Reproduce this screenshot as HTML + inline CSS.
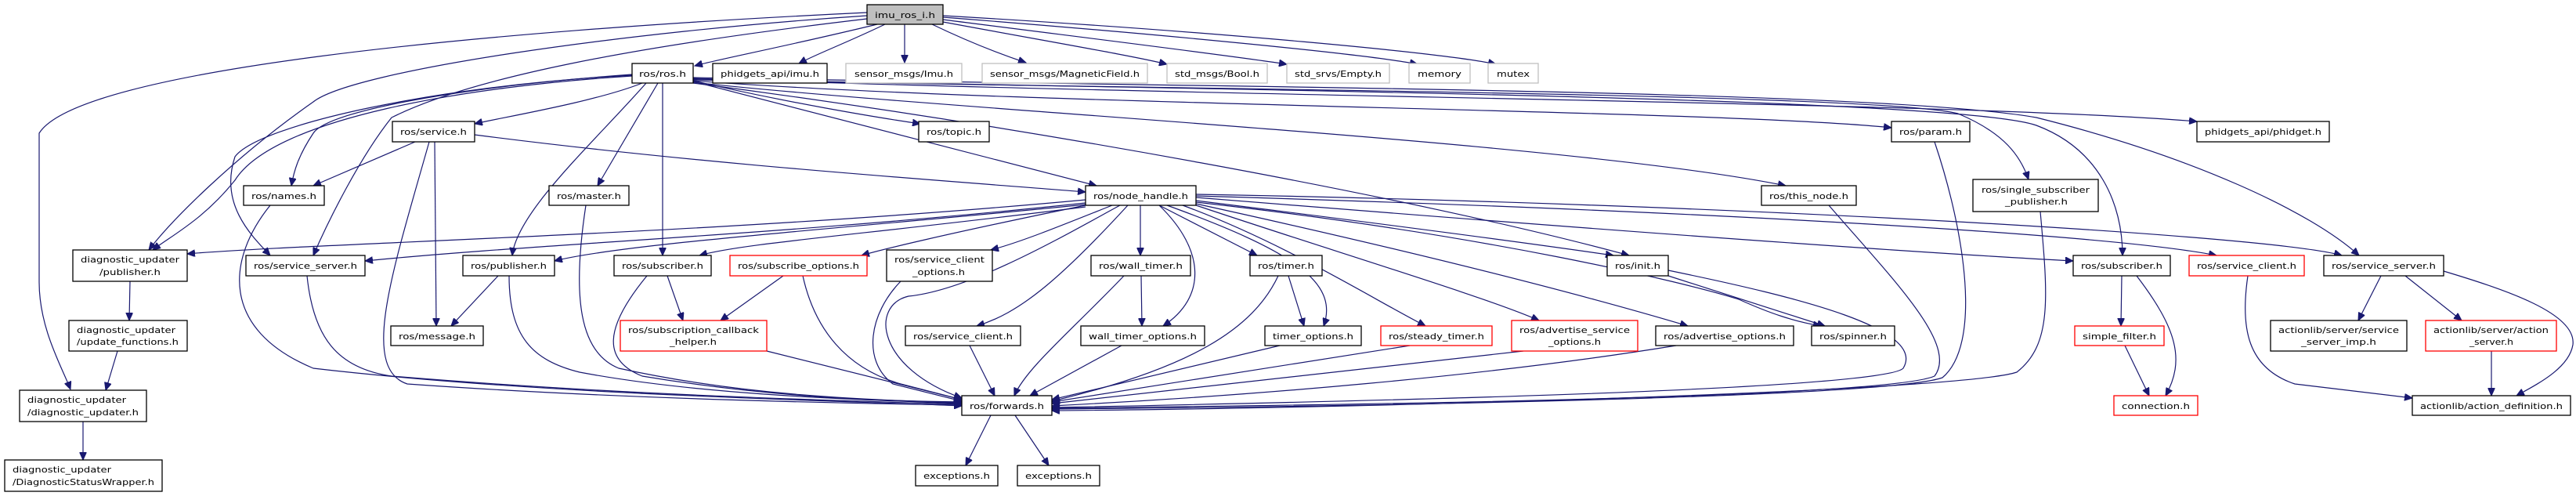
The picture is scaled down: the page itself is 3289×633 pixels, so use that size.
<!DOCTYPE html>
<html><head><meta charset="utf-8"><style>
html,body{margin:0;padding:0;background:#fff;}
svg{display:block;}
text{font-family:"DejaVu Sans","Liberation Sans",sans-serif;font-size:11px;fill:#000;}
.e{fill:none;stroke:#191970;stroke-width:1.2;}
.n{fill:#fff;stroke:#000;stroke-width:1.3;}
.g{fill:#fff;stroke:#bfbfbf;stroke-width:1.3;}
.r{fill:#fff;stroke:#ff0000;stroke-width:1.3;}
</style></head><body>
<svg width="3289" height="633" viewBox="0 0 3289 633" xmlns="http://www.w3.org/2000/svg">
<defs><marker id="a" markerUnits="userSpaceOnUse" markerWidth="11" markerHeight="9" refX="10" refY="4.5" orient="auto"><path d="M0,0 L10,4.5 L0,9 z" fill="#191970" stroke="#191970"/></marker></defs>
<g class="e" marker-end="url(#a)">
<path d="M1120,31 C1000,60 920,75 887,84"/>
<path d="M1130,31 C1080,55 1040,70 1020,81"/>
<path d="M1155,31 L1155,80"/>
<path d="M1190,31 C1240,55 1280,70 1310,80"/>
<path d="M1204,28 C1350,55 1450,72 1490,82"/>
<path d="M1204,25 C1400,50 1580,72 1643,82"/>
<path d="M1204,22 C1500,45 1750,70 1810,82"/>
<path d="M1204,20 C1550,40 1850,68 1910,82"/>
<path d="M1107,16 C600,40 100,90 50,170 L50,360 C50,420 80,470 90,497"/>
<path d="M1107,20 C800,40 450,90 400,130 C300,200 220,280 190,319"/>
<path d="M1107,24 C800,60 600,100 500,150 C460,200 420,280 400,326"/>
<path d="M807,97 C600,110 350,150 300,230 C260,280 220,300 195,319"/>
<path d="M807,95 C600,110 420,140 400,170 C380,200 375,220 372,237"/>
<path d="M807,96 C550,110 330,160 300,200 C280,260 320,300 345,326"/>
<path d="M820,106 C760,130 640,150 606,158"/>
<path d="M840,106 L763,237"/>
<path d="M825,106 C760,180 660,270 654,326"/>
<path d="M846,106 L846,326"/>
<path d="M885,104 C1100,160 1300,210 1400,237"/>
<path d="M885,103 C1000,130 1120,150 1175,158"/>
<path d="M885,105 C1200,140 2000,180 2280,237"/>
<path d="M885,106 C1300,160 1800,250 2080,326"/>
<path d="M885,103 C1300,135 2200,140 2415,163"/>
<path d="M885,102 C1600,115 2400,120 2500,145 C2560,170 2580,200 2590,229"/>
<path d="M885,101 C1600,115 2500,125 2600,160 C2680,190 2710,260 2710,326"/>
<path d="M885,100 C1600,125 2500,130 2805,155"/>
<path d="M885,99 C1600,112 2400,115 2600,150 C2800,200 2950,270 3012,326"/>
<path d="M530,181 L400,237"/>
<path d="M606,172 C900,210 1200,230 1386,245"/>
<path d="M555,181 L557,416"/>
<path d="M548,181 C500,350 460,470 520,490 C800,510 1100,515 1228,517"/>
<path d="M345,262 C290,330 280,420 400,470 C700,505 1100,512 1228,518"/>
<path d="M392,352 C400,430 430,470 500,480 C800,505 1100,512 1228,516"/>
<path d="M636,352 L576,416"/>
<path d="M650,352 C650,430 680,460 740,475 C900,505 1100,510 1228,515"/>
<path d="M748,262 C730,380 740,450 790,470 C950,505 1100,510 1228,514"/>
<path d="M852,352 L872,409"/>
<path d="M826,352 C770,420 770,460 820,480 C1000,510 1150,512 1228,513"/>
<path d="M1000,352 L920,409"/>
<path d="M1025,352 C1040,420 1080,470 1150,490 L1228,510"/>
<path d="M979,448 L1228,510"/>
<path d="M1386,255 C900,300 400,310 239,324"/>
<path d="M1386,259 C1000,300 700,310 466,333"/>
<path d="M1386,261 C1100,290 800,310 708,333"/>
<path d="M1386,264 C1100,300 950,310 893,326"/>
<path d="M1386,262 C1200,300 1120,320 1100,326"/>
<path d="M1420,262 C1350,290 1300,310 1265,319"/>
<path d="M1440,262 C1350,360 1300,400 1247,416"/>
<path d="M1430,262 C1360,300 1240,370 1160,378 C1110,390 1120,470 1228,508"/>
<path d="M1456,262 L1456,326"/>
<path d="M1480,262 C1540,320 1540,380 1485,416"/>
<path d="M1480,262 L1605,326"/>
<path d="M1490,262 C1650,320 1710,360 1690,416"/>
<path d="M1510,262 C1640,310 1750,380 1820,416"/>
<path d="M1527,262 C1700,320 1900,380 1965,409"/>
<path d="M1527,260 C1800,320 2000,370 2155,416"/>
<path d="M1527,258 C1900,300 2150,360 2220,382 C2260,400 2290,410 2325,416"/>
<path d="M1527,256 C1800,290 1950,310 2060,326"/>
<path d="M1527,252 C2000,290 2400,320 2647,333"/>
<path d="M1527,250 C2200,270 2700,300 2830,326"/>
<path d="M1527,248 C2200,260 2900,300 2990,326"/>
<path d="M1150,359 C1110,400 1100,460 1140,490 L1228,512"/>
<path d="M1457,352 L1458,416"/>
<path d="M1435,352 C1370,420 1310,470 1295,505"/>
<path d="M1645,352 L1665,416"/>
<path d="M1632,352 C1600,420 1520,470 1343,512"/>
<path d="M1238,441 L1270,505"/>
<path d="M1432,441 L1315,505"/>
<path d="M1634,441 L1343,510"/>
<path d="M1800,441 L1343,513"/>
<path d="M1945,448 L1343,515"/>
<path d="M2140,441 C1900,480 1600,505 1343,518"/>
<path d="M2130,352 L2330,416"/>
<path d="M2130,345 C2300,380 2460,420 2430,470 C2400,500 1600,515 1343,520"/>
<path d="M2335,262 C2420,360 2500,440 2470,480 C2400,510 1600,518 1343,521"/>
<path d="M2470,181 C2510,300 2530,440 2480,482 C2400,510 1600,520 1343,522"/>
<path d="M2605,270 C2615,380 2620,440 2575,475 C2500,500 1700,522 1343,524"/>
<path d="M2709,352 L2708,416"/>
<path d="M2728,352 C2780,420 2790,460 2765,505"/>
<path d="M2713,441 L2744,505"/>
<path d="M2870,352 C2860,420 2870,470 2930,490 L3080,508"/>
<path d="M3040,352 L3011,409"/>
<path d="M3071,352 L3143,409"/>
<path d="M3120,346 C3200,370 3290,400 3285,440 C3280,470 3240,490 3213,505"/>
<path d="M3181,448 L3181,505"/>
<path d="M1265,530 L1233,594"/>
<path d="M1296,530 L1339,594"/>
<path d="M166,359 L165,409"/>
<path d="M150,448 L135,498"/>
<path d="M106,538 L106,587"/>
</g>
<rect x="1107" y="6" width="97" height="25" fill="#bfbfbf" stroke="#000" stroke-width="1.3"/><text x="1117" y="23" textLength="77" lengthAdjust="spacingAndGlyphs">imu_ros_i.h</text>
<rect class="n" x="807" y="81" width="78" height="25"/><text x="816" y="98" textLength="60" lengthAdjust="spacingAndGlyphs">ros/ros.h</text>
<rect class="n" x="910" y="81" width="146" height="25"/><text x="920" y="98" textLength="126" lengthAdjust="spacingAndGlyphs">phidgets_api/imu.h</text>
<rect class="g" x="1080" y="81" width="148" height="25"/><text x="1091" y="98" textLength="126" lengthAdjust="spacingAndGlyphs">sensor_msgs/Imu.h</text>
<rect class="g" x="1254" y="81" width="211" height="25"/><text x="1264" y="98" textLength="191" lengthAdjust="spacingAndGlyphs">sensor_msgs/MagneticField.h</text>
<rect class="g" x="1490" y="81" width="128" height="25"/><text x="1500" y="98" textLength="108" lengthAdjust="spacingAndGlyphs">std_msgs/Bool.h</text>
<rect class="g" x="1643" y="81" width="131" height="25"/><text x="1653" y="98" textLength="111" lengthAdjust="spacingAndGlyphs">std_srvs/Empty.h</text>
<rect class="g" x="1799" y="81" width="78" height="25"/><text x="1810" y="98" textLength="56" lengthAdjust="spacingAndGlyphs">memory</text>
<rect class="g" x="1900" y="81" width="64" height="25"/><text x="1911" y="98" textLength="42" lengthAdjust="spacingAndGlyphs">mutex</text>
<rect class="n" x="501" y="155" width="105" height="26"/><text x="511" y="172" textLength="85" lengthAdjust="spacingAndGlyphs">ros/service.h</text>
<rect class="n" x="1173" y="155" width="90" height="26"/><text x="1183" y="172" textLength="70" lengthAdjust="spacingAndGlyphs">ros/topic.h</text>
<rect class="n" x="2415" y="155" width="100" height="26"/><text x="2425" y="172" textLength="80" lengthAdjust="spacingAndGlyphs">ros/param.h</text>
<rect class="n" x="2805" y="155" width="169" height="26"/><text x="2815" y="172" textLength="149" lengthAdjust="spacingAndGlyphs">phidgets_api/phidget.h</text>
<rect class="n" x="311" y="237" width="103" height="25"/><text x="321" y="254" textLength="83" lengthAdjust="spacingAndGlyphs">ros/names.h</text>
<rect class="n" x="701" y="237" width="102" height="25"/><text x="711" y="254" textLength="82" lengthAdjust="spacingAndGlyphs">ros/master.h</text>
<rect class="n" x="1386" y="237" width="141" height="25"/><text x="1396" y="254" textLength="121" lengthAdjust="spacingAndGlyphs">ros/node_handle.h</text>
<rect class="n" x="2249" y="237" width="121" height="25"/><text x="2259" y="254" textLength="101" lengthAdjust="spacingAndGlyphs">ros/this_node.h</text>
<rect class="n" x="2519" y="229" width="160" height="41"/><text x="2530" y="246" textLength="138" lengthAdjust="spacingAndGlyphs">ros/single_subscriber</text><text x="2560" y="261" textLength="80" lengthAdjust="spacingAndGlyphs">_publisher.h</text>
<rect class="n" x="93" y="319" width="146" height="40"/><text x="103" y="335" textLength="126" lengthAdjust="spacingAndGlyphs">diagnostic_updater</text><text x="127" y="351" textLength="78" lengthAdjust="spacingAndGlyphs">/publisher.h</text>
<rect class="n" x="314" y="326" width="152" height="26"/><text x="324" y="343" textLength="132" lengthAdjust="spacingAndGlyphs">ros/service_server.h</text>
<rect class="n" x="591" y="326" width="117" height="26"/><text x="601" y="343" textLength="97" lengthAdjust="spacingAndGlyphs">ros/publisher.h</text>
<rect class="n" x="784" y="326" width="124" height="26"/><text x="794" y="343" textLength="104" lengthAdjust="spacingAndGlyphs">ros/subscriber.h</text>
<rect class="r" x="932" y="326" width="175" height="26"/><text x="942" y="343" textLength="155" lengthAdjust="spacingAndGlyphs">ros/subscribe_options.h</text>
<rect class="n" x="1132" y="319" width="135" height="40"/><text x="1142" y="335" textLength="115" lengthAdjust="spacingAndGlyphs">ros/service_client</text><text x="1165" y="351" textLength="67" lengthAdjust="spacingAndGlyphs">_options.h</text>
<rect class="n" x="1393" y="326" width="127" height="26"/><text x="1403" y="343" textLength="107" lengthAdjust="spacingAndGlyphs">ros/wall_timer.h</text>
<rect class="n" x="1596" y="326" width="92" height="26"/><text x="1606" y="343" textLength="72" lengthAdjust="spacingAndGlyphs">ros/timer.h</text>
<rect class="n" x="2052" y="326" width="78" height="26"/><text x="2062" y="343" textLength="58" lengthAdjust="spacingAndGlyphs">ros/init.h</text>
<rect class="n" x="2647" y="326" width="124" height="26"/><text x="2657" y="343" textLength="104" lengthAdjust="spacingAndGlyphs">ros/subscriber.h</text>
<rect class="r" x="2795" y="326" width="147" height="26"/><text x="2805" y="343" textLength="127" lengthAdjust="spacingAndGlyphs">ros/service_client.h</text>
<rect class="n" x="2967" y="326" width="153" height="26"/><text x="2977" y="343" textLength="133" lengthAdjust="spacingAndGlyphs">ros/service_server.h</text>
<rect class="n" x="88" y="409" width="151" height="39"/><text x="98" y="425" textLength="126" lengthAdjust="spacingAndGlyphs">diagnostic_updater</text><text x="98" y="440" textLength="130" lengthAdjust="spacingAndGlyphs">/update_functions.h</text>
<rect class="n" x="499" y="416" width="118" height="25"/><text x="509" y="433" textLength="98" lengthAdjust="spacingAndGlyphs">ros/message.h</text>
<rect class="r" x="792" y="409" width="187" height="39"/><text x="802" y="425" textLength="167" lengthAdjust="spacingAndGlyphs">ros/subscription_callback</text><text x="855" y="440" textLength="60" lengthAdjust="spacingAndGlyphs">_helper.h</text>
<rect class="n" x="1156" y="416" width="147" height="25"/><text x="1166" y="433" textLength="127" lengthAdjust="spacingAndGlyphs">ros/service_client.h</text>
<rect class="n" x="1380" y="416" width="158" height="25"/><text x="1390" y="433" textLength="138" lengthAdjust="spacingAndGlyphs">wall_timer_options.h</text>
<rect class="n" x="1615" y="416" width="123" height="25"/><text x="1625" y="433" textLength="103" lengthAdjust="spacingAndGlyphs">timer_options.h</text>
<rect class="r" x="1763" y="416" width="142" height="25"/><text x="1773" y="433" textLength="122" lengthAdjust="spacingAndGlyphs">ros/steady_timer.h</text>
<rect class="r" x="1930" y="409" width="161" height="39"/><text x="1940" y="425" textLength="141" lengthAdjust="spacingAndGlyphs">ros/advertise_service</text><text x="1977" y="440" textLength="67" lengthAdjust="spacingAndGlyphs">_options.h</text>
<rect class="n" x="2114" y="416" width="176" height="25"/><text x="2124" y="433" textLength="156" lengthAdjust="spacingAndGlyphs">ros/advertise_options.h</text>
<rect class="n" x="2313" y="416" width="106" height="25"/><text x="2323" y="433" textLength="86" lengthAdjust="spacingAndGlyphs">ros/spinner.h</text>
<rect class="r" x="2649" y="416" width="114" height="25"/><text x="2659" y="433" textLength="94" lengthAdjust="spacingAndGlyphs">simple_filter.h</text>
<rect class="n" x="2899" y="409" width="174" height="39"/><text x="2909" y="425" textLength="154" lengthAdjust="spacingAndGlyphs">actionlib/server/service</text><text x="2938" y="440" textLength="96" lengthAdjust="spacingAndGlyphs">_server_imp.h</text>
<rect class="r" x="3097" y="409" width="167" height="39"/><text x="3107" y="425" textLength="147" lengthAdjust="spacingAndGlyphs">actionlib/server/action</text><text x="3153" y="440" textLength="56" lengthAdjust="spacingAndGlyphs">_server.h</text>
<rect class="n" x="25" y="498" width="162" height="40"/><text x="35" y="514" textLength="126" lengthAdjust="spacingAndGlyphs">diagnostic_updater</text><text x="35" y="530" textLength="142" lengthAdjust="spacingAndGlyphs">/diagnostic_updater.h</text>
<rect class="n" x="1228" y="505" width="115" height="25"/><text x="1238" y="522" textLength="95" lengthAdjust="spacingAndGlyphs">ros/forwards.h</text>
<rect class="r" x="2699" y="505" width="107" height="25"/><text x="2709" y="522" textLength="87" lengthAdjust="spacingAndGlyphs">connection.h</text>
<rect class="n" x="3080" y="505" width="202" height="25"/><text x="3090" y="522" textLength="182" lengthAdjust="spacingAndGlyphs">actionlib/action_definition.h</text>
<rect class="n" x="6" y="587" width="201" height="40"/><text x="16" y="603" textLength="126" lengthAdjust="spacingAndGlyphs">diagnostic_updater</text><text x="16" y="619" textLength="181" lengthAdjust="spacingAndGlyphs">/DiagnosticStatusWrapper.h</text>
<rect class="n" x="1169" y="594" width="105" height="26"/><text x="1179" y="611" textLength="85" lengthAdjust="spacingAndGlyphs">exceptions.h</text>
<rect class="n" x="1299" y="594" width="105" height="26"/><text x="1309" y="611" textLength="85" lengthAdjust="spacingAndGlyphs">exceptions.h</text>
</svg>
</body></html>
